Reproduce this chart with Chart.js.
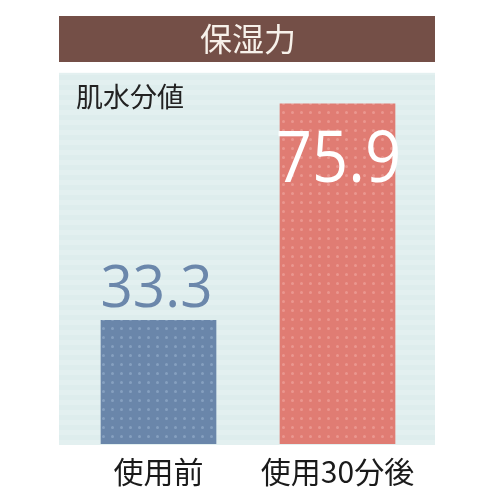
<!DOCTYPE html>
<html>
<head>
<meta charset="utf-8">
<script src="https://cdn.jsdelivr.net/npm/chart.js@4"></script>
<style>
  html, body { margin: 0; padding: 0; background: #fff; }
  #wrap { width: 500px; height: 500px; }
</style>
</head>
<body>
<div id="wrap"><canvas id="chart" width="500" height="500"></canvas></div>
<script>
const categories = ['使用前', '使用30分後'];
const values = [33.3, 75.9];
const valueLabels = ['33.3', '75.9'];
const titleText = '保湿力';
const unitLabel = '肌水分値';

// dotted fill for the bars
function dots(base, dot) {
  const c = document.createElement('canvas');
  c.width = 9; c.height = 9;
  const g = c.getContext('2d');
  g.fillStyle = base;
  g.fillRect(0, 0, 9, 9);
  g.fillStyle = dot;
  g.beginPath();
  g.arc(4.5, 4.5, 1.5, 0, Math.PI * 2);
  g.fill();
  return g.createPattern(c, 'repeat');
}

function stripes() {
  const c = document.createElement('canvas');
  c.width = 4; c.height = 10;
  const g = c.getContext('2d');
  g.fillStyle = '#e3f0f0';
  g.fillRect(0, 0, 4, 10);
  g.fillStyle = '#deeded';
  g.fillRect(0, 5, 4, 5);
  return g.createPattern(c, 'repeat');
}

const backdrop = {
  id: 'backdrop',
  beforeDraw(chart) {
    const { ctx, chartArea: a } = chart;
    ctx.save();
    // title band
    ctx.fillStyle = '#744f47';
    ctx.fillRect(a.left - 10, 16, a.right - a.left + 18, 46);
    // plot background
    ctx.fillStyle = stripes();
    ctx.fillRect(a.left - 10, a.top, a.right - a.left + 18, a.bottom - a.top + 1);
    ctx.restore();
  },
  afterDatasetsDraw(chart) {
    const { ctx, chartArea: a } = chart;
    ctx.save();
    ctx.fillStyle = '#222';
    ctx.font = '27px "Noto Sans CJK JP"';
    ctx.textBaseline = 'middle';
    ctx.textAlign = 'left';
    ctx.fillText(unitLabel, a.left + 7, a.top + 24);

    const bars = chart.getDatasetMeta(0).data;
    ctx.textAlign = 'center';
    ctx.textBaseline = 'alphabetic';
    // before: above the bar
    let b = bars[0];
    ctx.save();
    ctx.translate(b.x - 2, b.y - 13);
    ctx.scale(0.96, 1);
    ctx.fillStyle = '#6b87ab';
    ctx.font = '59px "Open Sans"';
    ctx.fillText(valueLabels[0], 0, 0);
    ctx.restore();
    // after: inside the bar
    b = bars[1];
    ctx.save();
    ctx.translate(b.x + 1, b.y + 78);
    ctx.scale(0.88, 1);
    ctx.fillStyle = '#ffffff';
    ctx.font = '72px "Open Sans"';
    ctx.fillText(valueLabels[1], 0, 0);
    ctx.restore();
    ctx.restore();
  }
};

new Chart(document.getElementById('chart'), {
  type: 'bar',
  data: {
    labels: categories,
    datasets: [{
      data: values,
      backgroundColor: [dots('#6a86aa', '#86a0c0'), dots('#e07c73', '#ea978f')],
      borderWidth: 0,
      barThickness: 115
    }]
  },
  options: {
    responsive: false,
    animation: false,
    layout: { padding: { left: 69, right: 73, bottom: 0, top: 0 } },
    plugins: {
      legend: { display: false },
      tooltip: { enabled: false },
      title: {
        display: true,
        text: titleText,
        color: '#f7f1ea',
        font: { family: '"Noto Sans CJK JP"', size: 32, weight: 'normal', lineHeight: 1.4 },
        padding: { top: 16, bottom: 12 }
      }
    },
    scales: {
      x: {
        grid: { display: false, drawTicks: false },
        border: { display: false },
        ticks: {
          color: '#1a1a1a',
          padding: 10,
          font: { family: '"Noto Sans CJK JP"', size: 30, lineHeight: 1.2 }
        }
      },
      y: {
        display: false,
        min: 9,
        max: 82
      }
    }
  },
  plugins: [backdrop]
});
</script>
</body>
</html>
